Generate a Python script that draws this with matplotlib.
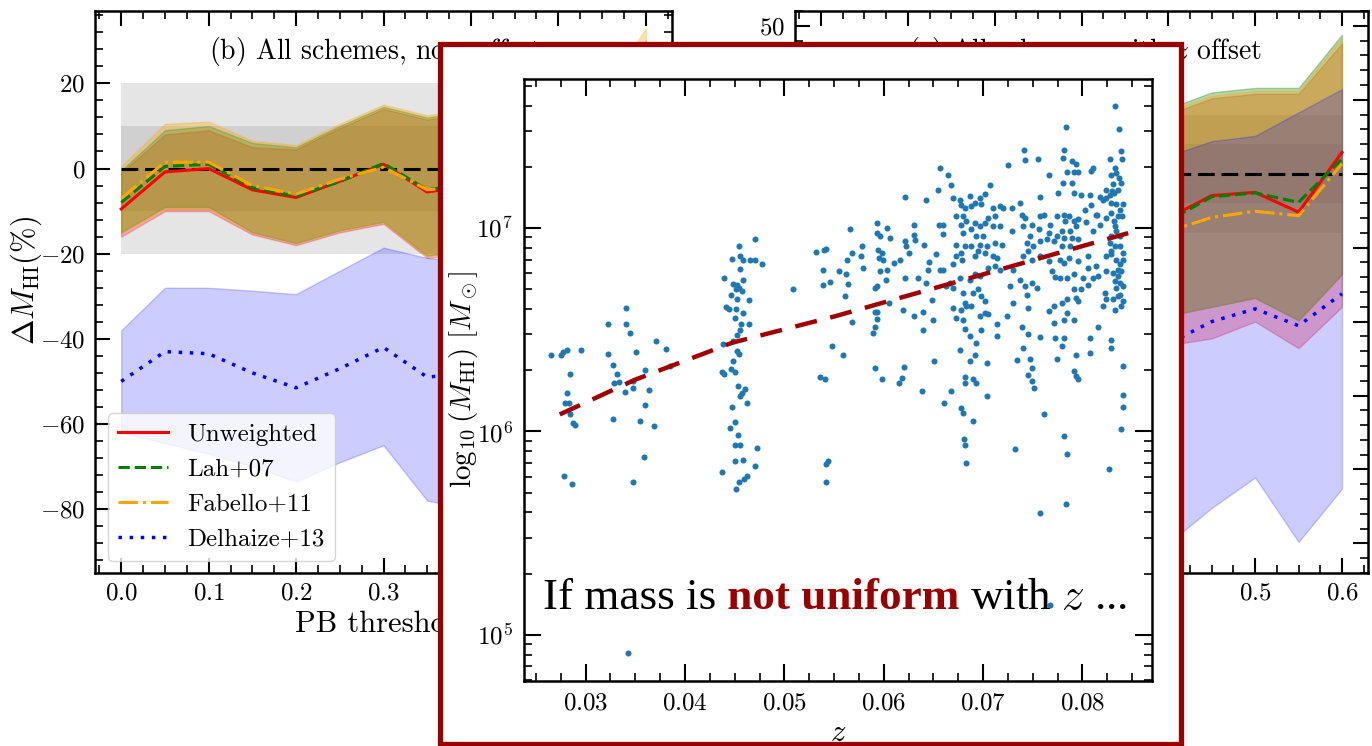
import numpy as np
import matplotlib
matplotlib.use("Agg")
import matplotlib.pyplot as plt
from matplotlib.patches import Rectangle
from matplotlib.ticker import MultipleLocator

plt.rcParams['font.family'] = ['cmr10']
plt.rcParams['mathtext.fontset'] = 'cm'
plt.rcParams['axes.formatter.use_mathtext'] = True

# ---------------- background panels: mass offset vs PB threshold ----------------
pb = [0.0, 0.05, 0.1, 0.15, 0.2, 0.25, 0.3, 0.35, 0.4, 0.45, 0.5, 0.55, 0.6]

# (b) no z offset
unw_b = [-9.5, -0.8, 0.0, -5.0, -6.8, -3.0, 1.0, -5.5, -4.0, -3.0, -6.0, -9.0, 2.0]
lah_b = [-8.0, 0.5, 1.0, -4.5, -6.5, -3.0, 1.2, -5.0, -3.5, -2.5, -5.5, -8.5, 2.5]
fab_b = [-7.0, 1.5, 1.5, -4.0, -6.0, -2.5, 0.3, -5.0, -4.0, -3.0, -6.0, -9.0, 1.5]
del_b = [-50, -43, -43.5, -48, -51.5, -47, -42, -49, -48, -46, -45, -50, -43]
unw_b_hi = [-1, 8, 9, 5, 4.5, 9.5, 14, 11.5, 13, 14, 15, 16, 28]
unw_b_lo = [-16, -10, -10, -15.5, -18, -15, -13, -21, -20, -19, -22, -26, -12]
lah_b_hi = [-0.5, 9, 10, 6, 5, 10, 14.5, 12, 13.5, 14.5, 15.5, 16.5, 30]
lah_b_lo = [-15, -9, -9, -15, -17.5, -14.5, -12.5, -20.5, -19, -18, -21, -25, -11]
fab_b_hi = [0.5, 10.5, 11, 6.5, 5.5, 10.5, 15, 12.5, 14, 15, 16, 17, 33]
fab_b_lo = [-15, -9.5, -9.5, -15, -17.5, -14.5, -12.5, -20.5, -20, -19, -22, -26, -12]
del_b_hi = [-38, -28, -28, -28.7, -29.5, -24, -18.6, -21, -22, -20, -19, -25, -15]
del_b_lo = [-62, -64.5, -67, -70, -73.5, -69, -65, -78, -80, -78, -76, -88, -70]

# (c) with z offset
unw_c = [-18, -11, -10, -15, -17, -13, -9, -16, -15, -7.4, -6.3, -13, 7.2]
lah_c = [-17, -10, -9, -14, -16, -12, -8, -16, -16, -7.8, -6.5, -9.7, 5.0]
fab_c = [-20, -13, -12, -17, -19, -15, -11, -19, -19.5, -14.8, -12.7, -14.2, 3.3]
del_c = [-60, -53, -54, -58, -61, -57, -52, -59, -57.5, -50, -45.7, -51.4, -40.6]
unw_c_hi = [8, 16, 17, 13, 12, 17, 21, 18, 20, 25.5, 27, 27, 44]
unw_c_lo = [-44, -38, -38, -43, -46, -43, -41, -49, -58, -55.7, -50, -59, -45]
lah_c_hi = [10, 18, 19, 15, 14, 19, 23, 20, 22, 27.5, 29, 29, 47]
lah_c_lo = [-40, -34, -34, -39, -42, -39, -37, -45, -48, -45, -42, -49.6, -34]
fab_c_hi = [9, 17, 18, 14, 13, 18, 22, 19, 21, 26.4, 28, 28, 46]
fab_c_lo = [-41, -35, -35, -40, -43, -40, -38, -46, -48, -45, -42, -49.6, -34]
del_c_hi = [-5, 2, 2, -2, -4, 0, 4, -2, 6, 11, 12.8, 20.7, 28.6]
del_c_lo = [-100, -95, -96, -100, -104, -99, -95, -110, -125, -113, -102.7, -124.5, -106.5]

labels = ['Unweighted', 'Lah+07', 'Fabello+11', 'Delhaize+13']

# ---------------- overlay: HI mass vs redshift ----------------
grp_a = [(0.0265, 6.378), (0.0275, 6.378), (0.0277, 6.390), (0.0281, 6.400), (0.0295, 6.400),
         (0.0284, 6.283), (0.0281, 6.187), (0.0279, 6.138), (0.0283, 6.138), (0.0284, 6.088),
         (0.0287, 6.043), (0.0289, 6.031), (0.0278, 5.781), (0.0286, 5.740)]
grp_b = [(0.0323, 6.526), (0.0341, 6.608), (0.0341, 6.526), (0.0345, 6.485), (0.0323, 6.383),
         (0.0328, 6.329), (0.0332, 6.285), (0.0329, 6.239), (0.0334, 6.242), (0.0340, 6.193),
         (0.0348, 6.215), (0.0348, 6.247), (0.0351, 6.390), (0.0360, 6.301), (0.0364, 6.206),
         (0.0360, 6.129), (0.0355, 6.054), (0.0369, 6.026), (0.0328, 6.062), (0.0359, 5.876),
         (0.0348, 5.753), (0.0371, 6.444), (0.0381, 6.406), (0.0385, 6.324), (0.0343, 4.909)]
grp_c = [(0.0470, 6.947), (0.0454, 6.914), (0.0455, 6.862), (0.0447, 6.848), (0.0458, 6.845),
         (0.0465, 6.845), (0.0470, 6.845), (0.0478, 6.824), (0.0455, 6.799), (0.0439, 6.755),
         (0.0458, 6.747), (0.0448, 6.727), (0.0452, 6.722), (0.0454, 6.706), (0.0451, 6.698),
         (0.0457, 6.690), (0.0446, 6.673), (0.0452, 6.649), (0.0464, 6.644), (0.0441, 6.613),
         (0.0444, 6.604), (0.0451, 6.600), (0.0458, 6.583), (0.0450, 6.559), (0.0456, 6.526),
         (0.0464, 6.526), (0.0455, 6.501), (0.0452, 6.472), (0.0448, 6.444), (0.0438, 6.428),
         (0.0452, 6.395), (0.0454, 6.383), (0.0448, 6.346), (0.0437, 6.292), (0.0439, 6.283),
         (0.0446, 6.305), (0.0450, 6.292), (0.0453, 6.226), (0.0460, 6.210), (0.0457, 6.187),
         (0.0455, 6.174), (0.0462, 6.141), (0.0447, 6.120), (0.0450, 6.046), (0.0445, 6.018),
         (0.0453, 5.985), (0.0450, 5.936), (0.0455, 5.936), (0.0472, 5.920), (0.0450, 5.857),
         (0.0458, 5.862), (0.0470, 5.830), (0.0437, 5.800), (0.0462, 5.781), (0.0459, 5.767),
         (0.0454, 5.753), (0.0451, 5.715)]
grp_d = [(0.0509, 6.698), (0.0532, 6.881), (0.0542, 6.898), (0.0540, 6.891), (0.0539, 6.796),
         (0.0546, 6.734), (0.0539, 6.722), (0.0555, 6.788), (0.0563, 6.845), (0.0568, 6.878),
         (0.0578, 6.914), (0.0577, 6.862), (0.0579, 6.804), (0.0562, 6.772), (0.0564, 6.727),
         (0.0561, 6.665), (0.0566, 6.993), (0.0568, 6.537), (0.0548, 6.419), (0.0559, 6.378),
         (0.0536, 6.269), (0.0541, 6.259), (0.0544, 5.854), (0.0542, 5.838), (0.0542, 5.751),
         (0.0593, 7.025), (0.0593, 6.976), (0.0596, 6.960), (0.0603, 7.001), (0.0606, 6.952),
         (0.0594, 6.894), (0.0598, 6.878), (0.0595, 6.853), (0.0599, 6.845), (0.0596, 6.788),
         (0.0603, 6.796), (0.0602, 6.744), (0.0593, 6.714), (0.0591, 6.706), (0.0610, 6.829),
         (0.0616, 6.845), (0.0621, 6.935), (0.0622, 6.911), (0.0625, 6.878), (0.0621, 6.752),
         (0.0630, 7.017), (0.0630, 6.968), (0.0631, 6.943), (0.0621, 7.152), (0.0643, 7.140),
         (0.0655, 7.189), (0.0657, 7.296), (0.0665, 7.260), (0.0668, 7.209), (0.0591, 6.586),
         (0.0593, 6.586), (0.0593, 6.554), (0.0591, 6.514), (0.0589, 6.482), (0.0605, 6.632),
         (0.0619, 6.596), (0.0630, 6.567), (0.0635, 6.755), (0.0643, 6.731), (0.0645, 6.796),
         (0.0646, 6.832), (0.0641, 6.919), (0.0653, 6.870), (0.0656, 7.017), (0.0660, 7.017),
         (0.0660, 6.973), (0.0657, 6.796), (0.0660, 6.796), (0.0640, 6.586), (0.0640, 6.498),
         (0.0649, 6.645), (0.0650, 6.550), (0.0591, 6.313), (0.0598, 6.256), (0.0615, 6.239),
         (0.0618, 6.264), (0.0620, 6.318), (0.0639, 6.198), (0.0651, 6.346), (0.0661, 6.138),
         (0.0668, 6.198), (0.0677, 6.400), (0.0670, 7.148), (0.0677, 7.140), (0.0678, 7.115),
         (0.0682, 7.099), (0.0680, 7.061), (0.0673, 7.058), (0.0683, 7.034), (0.0678, 7.017),
         (0.0680, 6.976), (0.0673, 6.919), (0.0682, 6.911), (0.0678, 6.878), (0.0673, 6.862),
         (0.0670, 6.821), (0.0679, 6.845), (0.0667, 6.731), (0.0663, 6.714), (0.0670, 6.706),
         (0.0677, 6.755), (0.0680, 6.681), (0.0682, 6.632), (0.0683, 6.616), (0.0678, 6.596),
         (0.0670, 6.608), (0.0673, 6.559), (0.0680, 6.550), (0.0682, 6.504), (0.0682, 6.269),
         (0.0682, 6.239), (0.0678, 6.116), (0.0680, 6.092), (0.0681, 5.961), (0.0682, 5.936),
         (0.0683, 5.846)]
grp_e = [(0.0833, 7.602), (0.0783, 7.497), (0.0837, 7.487), (0.0741, 7.381), (0.0781, 7.381),
         (0.0839, 7.378), (0.0742, 7.333), (0.0755, 7.340), (0.0780, 7.345), (0.0725, 7.312),
         (0.0828, 7.337), (0.0840, 7.337), (0.0789, 7.328), (0.0794, 7.317), (0.0766, 7.263),
         (0.0784, 7.274), (0.0791, 7.274), (0.0796, 7.274), (0.0811, 7.296), (0.0809, 7.279),
         (0.0833, 7.296), (0.0834, 7.271), (0.0837, 7.247), (0.0829, 7.263), (0.0839, 7.219),
         (0.0707, 7.209), (0.0780, 7.222), (0.0789, 7.222), (0.0775, 7.170), (0.0757, 7.153),
         (0.0791, 7.170), (0.0799, 7.160), (0.0808, 7.160), (0.0818, 7.153), (0.0824, 7.148),
         (0.0830, 7.181), (0.0828, 7.160), (0.0832, 7.170), (0.0829, 7.124), (0.0809, 7.111),
         (0.0803, 7.091), (0.0815, 7.066), (0.0821, 7.140), (0.0702, 7.165), (0.0697, 7.148),
         (0.0692, 7.124), (0.0688, 7.107), (0.0687, 7.156), (0.0698, 7.116), (0.0710, 7.099),
         (0.0717, 7.107), (0.0720, 7.099), (0.0729, 7.099), (0.0737, 7.124), (0.0739, 7.066),
         (0.0742, 7.050), (0.0712, 7.061), (0.0705, 7.050), (0.0702, 7.025), (0.0697, 7.009),
         (0.0692, 7.025), (0.0688, 6.993), (0.0693, 6.960), (0.0700, 6.960), (0.0710, 7.009),
         (0.0717, 7.009), (0.0729, 6.984), (0.0740, 7.009), (0.0749, 7.017), (0.0757, 7.061),
         (0.0761, 7.066), (0.0767, 7.017), (0.0774, 7.061), (0.0781, 7.066), (0.0786, 7.058),
         (0.0782, 7.034), (0.0792, 7.034), (0.0796, 7.042), (0.0804, 7.029), (0.0814, 7.066),
         (0.0824, 7.050), (0.0832, 7.034), (0.0836, 7.058), (0.0840, 7.058), (0.0833, 7.009),
         (0.0834, 6.984), (0.0829, 6.960), (0.0838, 6.960), (0.0818, 7.017), (0.0811, 6.984),
         (0.0794, 7.009), (0.0787, 6.984), (0.0779, 6.984), (0.0774, 6.960), (0.0766, 6.976),
         (0.0756, 6.993), (0.0747, 6.960), (0.0744, 6.927), (0.0750, 6.911), (0.0757, 6.935),
         (0.0764, 6.944), (0.0771, 6.935), (0.0781, 6.952), (0.0789, 6.952), (0.0796, 6.944),
         (0.0787, 6.911), (0.0779, 6.911), (0.0719, 6.919), (0.0712, 6.927), (0.0704, 6.911),
         (0.0697, 6.919), (0.0688, 6.911), (0.0695, 6.886), (0.0702, 6.875), (0.0692, 6.862),
         (0.0710, 6.862), (0.0714, 6.853), (0.0712, 6.812), (0.0740, 6.862), (0.0745, 6.886),
         (0.0749, 6.845), (0.0757, 6.862), (0.0766, 6.837), (0.0777, 6.845), (0.0781, 6.829),
         (0.0786, 6.853), (0.0796, 6.837), (0.0806, 6.862), (0.0814, 6.812), (0.0824, 6.862),
         (0.0829, 6.870), (0.0834, 6.845), (0.0838, 6.821), (0.0841, 6.845), (0.0831, 6.780),
         (0.0836, 6.763), (0.0839, 6.788), (0.0824, 6.788), (0.0816, 6.763), (0.0811, 6.755),
         (0.0806, 6.804), (0.0801, 6.755), (0.0792, 6.772), (0.0784, 6.755), (0.0777, 6.755),
         (0.0772, 6.760), (0.0769, 6.788), (0.0730, 6.796), (0.0717, 6.796), (0.0705, 6.804),
         (0.0697, 6.763), (0.0692, 6.772), (0.0687, 6.747), (0.0695, 6.698), (0.0698, 6.665),
         (0.0690, 6.681), (0.0688, 6.616), (0.0702, 6.641), (0.0727, 6.714), (0.0737, 6.747),
         (0.0742, 6.714), (0.0749, 6.731), (0.0754, 6.706), (0.0744, 6.673), (0.0730, 6.632),
         (0.0745, 6.608), (0.0766, 6.591), (0.0771, 6.616), (0.0779, 6.632), (0.0784, 6.649),
         (0.0794, 6.657), (0.0796, 6.641), (0.0792, 6.698), (0.0799, 6.698), (0.0806, 6.722),
         (0.0823, 6.681), (0.0834, 6.706), (0.0838, 6.673), (0.0841, 6.641), (0.0839, 6.616),
         (0.0836, 6.665), (0.0831, 6.649), (0.0833, 6.599), (0.0821, 6.616), (0.0784, 6.583),
         (0.0781, 6.550), (0.0792, 6.550), (0.0724, 6.567), (0.0702, 6.580), (0.0705, 6.575),
         (0.0697, 6.567), (0.0698, 6.501), (0.0687, 6.468), (0.0693, 6.436), (0.0692, 6.378),
         (0.0687, 6.346), (0.0704, 6.337), (0.0714, 6.526), (0.0714, 6.468), (0.0739, 6.514),
         (0.0740, 6.411), (0.0745, 6.477), (0.0757, 6.465), (0.0771, 6.534), (0.0772, 6.460),
         (0.0781, 6.460), (0.0779, 6.419), (0.0794, 6.375), (0.0808, 6.460), (0.0808, 6.387),
         (0.0816, 6.514), (0.0829, 6.449), (0.0829, 6.411), (0.0734, 6.351), (0.0747, 6.354),
         (0.0749, 6.313), (0.0745, 6.280), (0.0749, 6.247), (0.0751, 6.215), (0.0761, 6.084),
         (0.0791, 6.296), (0.0794, 6.275), (0.0796, 6.259), (0.0774, 6.354), (0.0690, 6.256),
         (0.0693, 6.239), (0.0704, 6.174), (0.0690, 6.051), (0.0732, 5.915), (0.0781, 5.977),
         (0.0784, 5.887), (0.0827, 5.818), (0.0841, 6.324), (0.0841, 6.177), (0.0841, 6.121),
         (0.0839, 6.014), (0.0831, 7.214), (0.0836, 7.189), (0.0824, 7.189), (0.0834, 7.116),
         (0.0838, 7.091), (0.0841, 7.116), (0.0829, 7.075), (0.0828, 6.927), (0.0833, 6.911),
         (0.0838, 6.911), (0.0841, 6.878), (0.0829, 6.886), (0.0836, 6.796), (0.0833, 6.739),
         (0.0838, 6.731), (0.0841, 6.714), (0.0824, 6.649)]
grp_f = [(0.0757, 5.597), (0.0783, 5.646), (0.0767, 5.145)]

z_fit = [0.0274, 0.035, 0.0448, 0.055, 0.0694, 0.0846]
logm_fit = [6.084, 6.255, 6.437, 6.565, 6.764, 6.975]

pts = np.array(grp_a + grp_b + grp_c + grp_d + grp_e + grp_f)
z_pts = pts[:, 0]
m_pts = 10 ** pts[:, 1]

DARK_RED = '#990000'
W, H = 1372, 746
fig = plt.figure(figsize=(W / 100, H / 100), dpi=100)


def add_axes_px(left, top, right, bottom):
    return fig.add_axes([left / W, 1 - bottom / H, (right - left) / W, (bottom - top) / H])


def style_ticks(ax, pad=7):
    ax.tick_params(which='both', direction='in', top=True, right=True, labelsize=18, pad=pad)
    ax.tick_params(which='major', length=11, width=1.5)
    ax.tick_params(which='minor', length=5.5, width=1.2)
    for s in ax.spines.values():
        s.set_linewidth(1.8)


def draw_panel(ax, title, lines, bands):
    ax.fill_between(pb, -20, 20, color='grey', alpha=0.2, lw=0)
    ax.fill_between(pb, -10, 10, color='grey', alpha=0.2, lw=0)
    for (lo, hi), c, a in zip(bands, ['r', 'g', 'orange', 'b'], [0.25, 0.3, 0.3, 0.2]):
        ax.fill_between(pb, lo, hi, color=c, alpha=a)
    ax.plot([0, 0.6], [0, 0], color='k', lw=2.2, dashes=(5.5, 2.2))
    styles = [dict(color='r', ls='-'), dict(color='g', ls='--'),
              dict(color='orange', ls='-.'), dict(color='b', dashes=(1, 2.2))]
    for y, st, lab in zip(lines, styles, labels):
        ax.plot(pb, y, lw=2.5 if st['color'] == 'b' else 2.2, label=lab, **st)
    ax.set_xlim(-0.03, 0.63)
    ax.xaxis.set_major_locator(MultipleLocator(0.1))
    ax.xaxis.set_minor_locator(MultipleLocator(0.025))
    ax.set_xlabel('PB threshold', fontsize=22)
    ax.set_ylabel(r'$\Delta M_{\rm HI}(\%)$', fontsize=22)
    ax.text(0.198, 0.915, title, transform=ax.transAxes, fontsize=20, ha='left', va='baseline')
    style_ticks(ax)


ax_b = add_axes_px(95, 11, 672, 573)
draw_panel(ax_b, r'(b) All schemes, no $z$ offset', [unw_b, lah_b, fab_b, del_b],
           [(unw_b_lo, unw_b_hi), (lah_b_lo, lah_b_hi), (fab_b_lo, fab_b_hi), (del_b_lo, del_b_hi)])
ax_b.set_ylim(-95, 37)
ax_b.yaxis.set_major_locator(MultipleLocator(20))
ax_b.yaxis.set_minor_locator(MultipleLocator(4))
ax_b.yaxis.set_label_coords(-0.088, 0.52)
ax_b.legend(loc='lower left', fontsize=18)

ax_c = add_axes_px(795, 11, 1368, 573)
draw_panel(ax_c, r'(c) All schemes, with $z$ offset', [unw_c, lah_c, fab_c, del_c],
           [(unw_c_lo, unw_c_hi), (lah_c_lo, lah_c_hi), (fab_c_lo, fab_c_hi), (del_c_lo, del_c_hi)])
ax_c.set_ylim(-135, 55)
ax_c.yaxis.set_major_locator(MultipleLocator(25))
ax_c.yaxis.set_minor_locator(MultipleLocator(5))

# overlay frame
frame = Rectangle((440 / W, 1 - 744 / H), (1181 - 440) / W, (744 - 44) / H,
                  transform=fig.transFigure, facecolor='white', edgecolor=DARK_RED,
                  lw=3.8, zorder=5)
fig.add_artist(frame)

ax_s = add_axes_px(524, 79, 1152, 681)
ax_s.set_zorder(10)
ax_s.scatter(z_pts, m_pts, s=19, color='#1f77b4', lw=0)
ax_s.plot(z_fit, 10 ** np.array(logm_fit), color='#a00000', lw=3.2, ls=(0, (5.0, 3.1)))
ax_s.set_yscale('log')
ax_s.set_xlim(0.0238, 0.087)
ax_s.set_ylim(5.94e4, 5.4e7)
ax_s.xaxis.set_major_locator(MultipleLocator(0.01))
ax_s.xaxis.set_minor_locator(MultipleLocator(0.0025))
style_ticks(ax_s, pad=8)
ax_s.tick_params(which='major', length=12)
ax_s.tick_params(which='minor', length=6)
ax_s.set_xlabel(r'$z$', fontsize=22)
ax_s.set_ylabel(r'$\log_{10}(M_{\rm HI})\ [M_\odot]$', fontsize=21)
ax_s.yaxis.set_label_coords(-0.07, 0.5)

t1 = ax_s.text(0.030, 0.119, 'If mass is', transform=ax_s.transAxes, fontsize=32.5,
               family='Liberation Serif', va='baseline')
t2 = ax_s.annotate(' not uniform', xy=(1, 0), xycoords=t1, va='bottom', fontsize=32.5,
                   family='Liberation Serif', weight='bold', color=DARK_RED)
t3 = ax_s.annotate(r' with $z$ ...', xy=(1, 0), xycoords=t2, va='bottom', fontsize=32.5,
                   family='Liberation Serif')

fig.savefig('out.png', dpi=100)
